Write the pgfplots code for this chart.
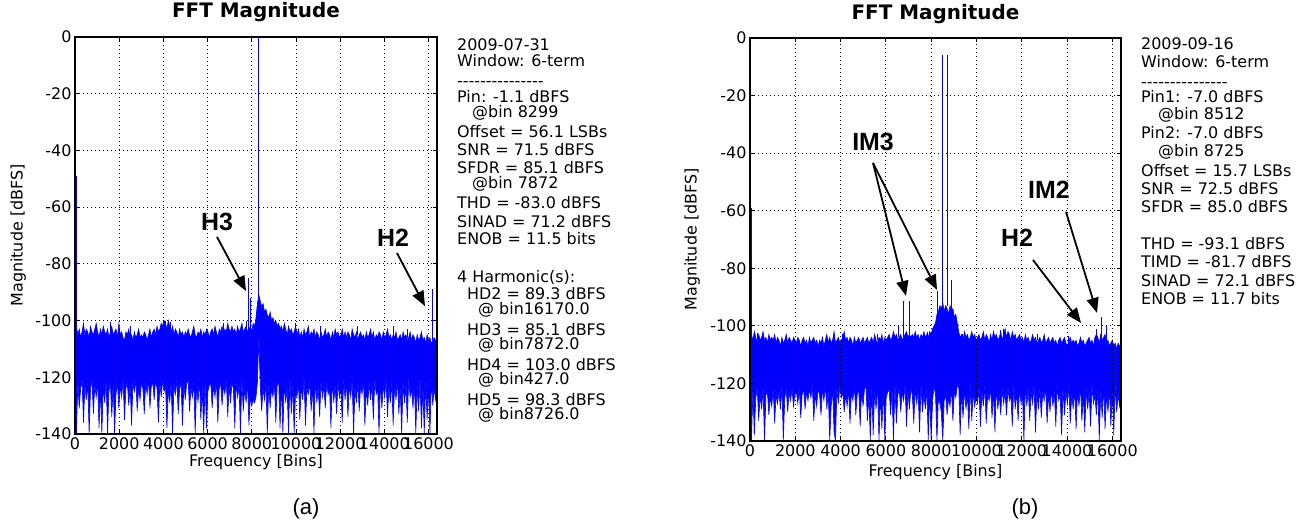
\documentclass[border=0pt]{standalone}
\usepackage{fontspec}
\setmainfont{DejaVu Sans}
\newfontfamily\arialfont{Liberation Sans}
\usepackage{pgfplots}
\usepackage{pgfplotstable}
\pgfplotsset{compat=1.18}
\usetikzlibrary{arrows.meta}

% noise floor envelopes, (a): one value every 64 bins
\pgfplotstableread[header=false,row sep=\\]{
-104\\-102\\-105\\-103\\-106\\-104\\-101\\-105\\-103\\-104\\-106\\-102\\-104\\-105\\-103\\-101\\
-104\\-106\\-103\\-105\\-102\\-104\\-105\\-103\\-106\\-104\\-102\\-105\\-104\\-103\\-106\\-101\\
-105\\-104\\-106\\-107\\-104\\-105\\-103\\-106\\-105\\-107\\-104\\-106\\-105\\-103\\-106\\-105\\
-106\\-104\\-105\\-107\\-105\\-103\\-106\\-104\\-103\\-105\\-102\\-104\\-103\\-101\\-102\\-100\\
-101\\-103\\-100\\-102\\-104\\-102\\-105\\-103\\-104\\-106\\-103\\-105\\-104\\-106\\-104\\-105\\
-103\\-105\\-106\\-104\\-102\\-105\\-106\\-104\\-105\\-103\\-106\\-104\\-105\\-103\\-104\\-106\\
-104\\-103\\-105\\-102\\-104\\-106\\-103\\-104\\-102\\-105\\-103\\-104\\-101\\-103\\-104\\-102\\
-104\\-103\\-105\\-102\\-104\\-103\\-101\\-104\\-103\\-102\\-104\\-103\\-102\\-104\\-101\\-102\\
-99\\-94\\-91\\-93\\-95\\-94\\-97\\-96\\-98\\-99\\-97\\-100\\-99\\-101\\-100\\-102\\
-101\\-103\\-102\\-104\\-101\\-103\\-105\\-102\\-104\\-103\\-105\\-104\\-102\\-105\\-103\\-106\\
-104\\-106\\-103\\-105\\-104\\-102\\-106\\-104\\-105\\-103\\-106\\-104\\-105\\-107\\-104\\-106\\
-105\\-103\\-106\\-104\\-105\\-107\\-104\\-106\\-103\\-105\\-104\\-106\\-105\\-103\\-106\\-104\\
-106\\-104\\-105\\-107\\-103\\-105\\-106\\-104\\-107\\-105\\-104\\-106\\-105\\-107\\-104\\-106\\
-105\\-103\\-106\\-104\\-107\\-105\\-106\\-104\\-105\\-107\\-104\\-106\\-105\\-103\\-106\\-105\\
-107\\-105\\-106\\-104\\-107\\-106\\-105\\-107\\-104\\-106\\-105\\-107\\-106\\-104\\-107\\-105\\
-106\\-108\\-105\\-107\\-106\\-104\\-107\\-106\\-108\\-105\\-107\\-106\\-108\\-107\\-106\\-107\\
-107\\
}\upA
\pgfplotstableread[header=false,row sep=\\]{
-125\\-140\\-122\\-131\\-124\\-121\\-136\\-123\\-128\\-122\\-140\\-124\\-121\\-133\\-123\\-127\\
-122\\-138\\-124\\-140\\-123\\-129\\-121\\-140\\-125\\-122\\-134\\-123\\-140\\-126\\-122\\-131\\
-123\\-127\\-121\\-135\\-124\\-122\\-130\\-123\\-137\\-122\\-125\\-121\\-132\\-124\\-128\\-122\\
-124\\-133\\-122\\-126\\-121\\-131\\-123\\-122\\-128\\-121\\-124\\-136\\-122\\-127\\-121\\-125\\
-123\\-138\\-124\\-129\\-122\\-140\\-123\\-126\\-121\\-133\\-124\\-122\\-137\\-123\\-128\\-122\\
-121\\-132\\-124\\-127\\-122\\-140\\-123\\-129\\-121\\-135\\-124\\-140\\-122\\-138\\-125\\-123\\
-122\\-131\\-123\\-127\\-121\\-136\\-124\\-122\\-130\\-123\\-126\\-121\\-134\\-123\\-129\\-122\\
-124\\-138\\-122\\-127\\-123\\-140\\-121\\-132\\-124\\-129\\-122\\-137\\-127\\-130\\-128\\-129\\
-127\\-122\\-106\\-123\\-132\\-124\\-128\\-122\\-140\\-123\\-131\\-124\\-127\\-122\\-136\\-123\\
-121\\-138\\-123\\-140\\-122\\-129\\-124\\-140\\-121\\-133\\-123\\-140\\-125\\-127\\-122\\-135\\
-123\\-128\\-121\\-137\\-124\\-126\\-122\\-132\\-123\\-140\\-121\\-129\\-124\\-134\\-122\\-127\\
-123\\-131\\-122\\-126\\-124\\-138\\-121\\-129\\-123\\-133\\-122\\-127\\-124\\-136\\-121\\-128\\
-122\\-134\\-123\\-127\\-121\\-140\\-124\\-129\\-122\\-132\\-123\\-126\\-121\\-137\\-124\\-130\\
-122\\-128\\-123\\-135\\-121\\-126\\-124\\-140\\-122\\-131\\-123\\-127\\-121\\-134\\-124\\-129\\
-122\\-137\\-123\\-128\\-121\\-133\\-124\\-140\\-122\\-129\\-123\\-136\\-121\\-127\\-124\\-131\\
-122\\-140\\-123\\-132\\-121\\-138\\-124\\-140\\-122\\-135\\-123\\-140\\-121\\-130\\-124\\-128\\
-123\\
}\loA
% noise floor envelopes, (b)
\pgfplotstableread[header=false,row sep=\\]{
-104\\-103\\-105\\-102\\-104\\-106\\-103\\-105\\-104\\-102\\-105\\-104\\-106\\-103\\-105\\-104\\
-105\\-103\\-106\\-104\\-105\\-107\\-104\\-106\\-105\\-103\\-106\\-104\\-105\\-106\\-104\\-105\\
-106\\-104\\-105\\-107\\-105\\-104\\-106\\-105\\-107\\-104\\-106\\-105\\-104\\-106\\-105\\-107\\
-105\\-106\\-104\\-107\\-105\\-103\\-106\\-104\\-106\\-105\\-102\\-106\\-105\\-104\\-106\\-105\\
-104\\-102\\-105\\-104\\-106\\-104\\-105\\-107\\-104\\-106\\-105\\-104\\-106\\-105\\-104\\-106\\
-105\\-104\\-106\\-105\\-104\\-106\\-103\\-105\\-106\\-104\\-105\\-103\\-106\\-104\\-105\\-104\\
-103\\-105\\-104\\-102\\-104\\-103\\-105\\-104\\-103\\-105\\-104\\-103\\-102\\-104\\-103\\-104\\
-103\\-104\\-102\\-104\\-103\\-105\\-103\\-104\\-102\\-104\\-103\\-104\\-102\\-103\\-101\\-100\\
-99\\-96\\-95\\-93\\-94\\-92\\-95\\-93\\-94\\-96\\-93\\-95\\-94\\-97\\-96\\-99\\
-102\\-104\\-103\\-105\\-102\\-104\\-103\\-105\\-104\\-102\\-104\\-103\\-105\\-104\\-103\\-105\\
-104\\-102\\-105\\-103\\-104\\-106\\-103\\-105\\-102\\-104\\-103\\-105\\-104\\-102\\-105\\-103\\
-101\\-104\\-102\\-103\\-105\\-102\\-104\\-103\\-105\\-104\\-103\\-105\\-104\\-106\\-103\\-105\\
-104\\-106\\-105\\-103\\-105\\-104\\-106\\-105\\-104\\-106\\-105\\-103\\-106\\-105\\-104\\-106\\
-105\\-104\\-106\\-105\\-107\\-105\\-104\\-106\\-105\\-104\\-106\\-107\\-105\\-104\\-106\\-105\\
-106\\-105\\-107\\-106\\-104\\-106\\-105\\-107\\-106\\-105\\-104\\-106\\-105\\-107\\-104\\-103\\
-104\\-106\\-103\\-105\\-104\\-103\\-106\\-105\\-107\\-106\\-105\\-107\\-106\\-108\\-106\\-107\\
-107\\
}\upB
\pgfplotstableread[header=false,row sep=\\]{
-126\\-140\\-123\\-138\\-125\\-122\\-133\\-124\\-129\\-122\\-140\\-124\\-123\\-131\\-125\\-128\\
-122\\-134\\-124\\-127\\-123\\-129\\-121\\-140\\-125\\-122\\-130\\-123\\-126\\-122\\-128\\-124\\
-123\\-127\\-122\\-132\\-124\\-122\\-129\\-123\\-126\\-122\\-125\\-121\\-133\\-124\\-128\\-122\\
-124\\-131\\-122\\-126\\-121\\-129\\-123\\-140\\-128\\-122\\-137\\-140\\-122\\-127\\-121\\-125\\
-123\\-130\\-124\\-128\\-122\\-134\\-123\\-126\\-121\\-131\\-124\\-122\\-135\\-123\\-128\\-122\\
-121\\-133\\-124\\-140\\-122\\-138\\-123\\-129\\-121\\-140\\-124\\-136\\-122\\-140\\-125\\-123\\
-122\\-131\\-123\\-140\\-121\\-134\\-124\\-122\\-130\\-123\\-126\\-121\\-135\\-123\\-129\\-122\\
-124\\-134\\-122\\-127\\-123\\-137\\-121\\-130\\-124\\-129\\-122\\-140\\-123\\-140\\-126\\-121\\
-124\\-140\\-125\\-127\\-130\\-140\\-126\\-124\\-131\\-125\\-128\\-122\\-133\\-123\\-125\\-121\\
-121\\-138\\-123\\-132\\-122\\-129\\-124\\-136\\-121\\-133\\-123\\-128\\-125\\-127\\-122\\-135\\
-123\\-128\\-121\\-134\\-124\\-126\\-122\\-132\\-123\\-137\\-121\\-129\\-124\\-131\\-122\\-127\\
-123\\-131\\-122\\-126\\-124\\-135\\-121\\-129\\-123\\-133\\-122\\-127\\-124\\-140\\-121\\-128\\
-122\\-133\\-123\\-127\\-121\\-137\\-124\\-129\\-122\\-132\\-123\\-126\\-121\\-134\\-124\\-130\\
-122\\-128\\-123\\-135\\-121\\-126\\-124\\-138\\-122\\-131\\-123\\-127\\-121\\-134\\-124\\-129\\
-122\\-136\\-123\\-128\\-121\\-133\\-124\\-137\\-122\\-129\\-123\\-135\\-121\\-127\\-124\\-131\\
-122\\-140\\-123\\-132\\-121\\-136\\-124\\-130\\-122\\-135\\-123\\-138\\-121\\-130\\-124\\-128\\
-124\\
}\loB

\pgfplotsset{fftaxis/.style={
  scale only axis, anchor=south west,
  xmin=0, xmax=16384, ymin=-140, ymax=0,
  xtick={0,2000,...,16000}, ytick={-140,-120,...,0},
  scaled ticks=false,
  /pgf/number format/1000 sep={},
  /pgf/number format/assume math mode=true,
  grid=major,
  major grid style={black, line width=0.8bp, dash pattern=on 1bp off 3bp},
  axis on top,
  tick align=inside, major tick length=4.5bp,
  tick style={black, line width=0.8bp},
  axis line style={black, line width=1.3bp},
  tick label style={font=\fontsize{16}{18}\selectfont},
  label style={font=\fontsize{16}{19}\selectfont},
  title style={font=\fontsize{20}{23}\selectfont\bfseries, anchor=base},
  title={FFT Magnitude}, xlabel={Frequency [Bins]}, ylabel={Magnitude [dBFS]},
}}
\tikzset{
  ann/.style={font=\arialfont\bfseries\fontsize{25}{28}\selectfont},
  arr/.style={black, line width=1.8bp, -{Triangle[length=15bp,width=12bp]}},
  info/.style={anchor=base west, inner sep=0pt, font=\fontsize{16}{19}\selectfont},
  spk/.style={blue, line width=1bp},
}

\begin{document}
\begin{tikzpicture}
\path[use as bounding box] (0bp,0bp) rectangle (1314bp,529bp);

% ---------------- (a) ----------------
\begin{axis}[fftaxis, at={(75bp,95bp)}, width=362bp, height=397bp,
  title style={at={(axis description cs:0.5,1.033)}},
  xlabel style={at={(axis description cs:0.5,-0.083)}, anchor=base},
  ylabel style={at={(axis description cs:-0.157,0.5)}, anchor=center}]
\addplot[blue, fill=blue, line width=0.6bp] table[x expr=\coordindex*64, y index=0] {\upA}
  -- (axis cs:16384,-145) -- (axis cs:0,-145) -- cycle;
\addplot[draw=none, fill=white] table[x expr=\coordindex*64, y index=0] {\loA}
  -- (axis cs:16384,-145) -- (axis cs:0,-145) -- cycle;
\addplot[blue, line width=0.6bp] table[x expr=\coordindex*64, y index=0] {\loA};
% thin spurs poking above the floor
\addplot[blue, line width=0.8bp, unbounded coords=jump] coordinates {
  (1584,-105) (1584,-100.4) (nan,nan) (2490,-106) (2490,-102) (nan,nan)
  (4073,-104) (4073,-100) (nan,nan) (4300,-104) (4300,-100.5) (nan,nan)
  (6700,-104) (6700,-101) (nan,nan) (7780,-104) (7780,-100) (nan,nan)
  (9957,-104) (9957,-101) (nan,nan) (11090,-105) (11090,-102) (nan,nan)
  (12760,-105) (12760,-102) (nan,nan) (14400,-106) (14400,-102) (nan,nan)
  (15030,-106) (15030,-103)};
\addplot[spk] coordinates {(60,-112) (60,-49)};
\addplot[spk] coordinates {(7872,-104) (7872,-85)};
\addplot[spk, line width=0.8bp] coordinates {(7940,-104) (7940,-92)};
\addplot[spk, line width=1.5bp] coordinates {(8299,-95) (8299,0)};
\addplot[spk] coordinates {(16170,-107) (16170,-89)};
\node[ann] at (axis cs:6427,-65.2) {H3};
\draw[arr] (axis cs:6427,-70.5) -- (axis cs:7740,-89.6);
\node[ann] at (axis cs:14393,-70.9) {H2};
\draw[arr] (axis cs:14574,-76.2) -- (axis cs:15841,-94.9);
\end{axis}

\node[info] at (457bp,478bp) {2009-07-31};
\node[info] at (457bp,462bp) {Window: 6-term};
\node[info] at (457bp,442bp) {-{}-{}-{}-{}-{}-{}-{}-{}-{}-{}-{}-{}-{}-{}-};
\node[info] at (457bp,426bp) {Pin: -1.1 dBFS};
\node[info] at (472bp,411bp) {@bin 8299};
\node[info] at (457bp,391bp) {Offset = 56.1 LSBs};
\node[info] at (457bp,373bp) {SNR = 71.5 dBFS};
\node[info] at (457bp,355bp) {SFDR = 85.1 dBFS};
\node[info] at (472bp,340bp) {@bin 7872};
\node[info] at (457bp,320bp) {THD = -83.0 dBFS};
\node[info] at (457bp,301bp) {SINAD = 71.2 dBFS};
\node[info] at (457bp,284bp) {ENOB = 11.5 bits};
\node[info] at (457bp,246bp) {4 Harmonic(s):};
\node[info] at (467bp,229bp) {HD2 = 89.3 dBFS};
\node[info] at (478bp,214bp) {@ bin16170.0};
\node[info] at (467bp,193bp) {HD3 = 85.1 dBFS};
\node[info] at (478bp,179bp) {@ bin7872.0};
\node[info] at (467bp,158bp) {HD4 = 103.0 dBFS};
\node[info] at (478bp,144bp) {@ bin427.0};
\node[info] at (467bp,123bp) {HD5 = 98.3 dBFS};
\node[info] at (478bp,109bp) {@ bin8726.0};
\node[font=\arialfont\fontsize{22}{26}\selectfont] at (306bp,20bp) {(a)};

% ---------------- (b) ----------------
\begin{axis}[fftaxis, at={(750bp,88bp)}, width=371bp, height=403bp,
  title style={at={(axis description cs:0.5,1.032)}},
  xlabel style={at={(axis description cs:0.5,-0.087)}, anchor=base},
  ylabel style={at={(axis description cs:-0.156,0.5)}, anchor=center}]
\addplot[blue, fill=blue, line width=0.6bp] table[x expr=\coordindex*64, y index=0] {\upB}
  -- (axis cs:16384,-145) -- (axis cs:0,-145) -- cycle;
\addplot[draw=none, fill=white] table[x expr=\coordindex*64, y index=0] {\loB}
  -- (axis cs:16384,-145) -- (axis cs:0,-145) -- cycle;
\addplot[blue, line width=0.6bp] table[x expr=\coordindex*64, y index=0] {\loB};
\addplot[blue, line width=0.8bp, unbounded coords=jump] coordinates {
  (310,-105) (310,-102.5) (nan,nan) (4060,-105) (4060,-102.8) (nan,nan)
  (5610,-105) (5610,-103) (nan,nan) (7815,-104) (7815,-102) (nan,nan)
  (9400,-105) (9400,-103) (nan,nan) (11040,-104) (11040,-101.5) (nan,nan)
  (11200,-104) (11200,-101) (nan,nan) (12670,-105) (12670,-103) (nan,nan)
  (14040,-106) (14040,-103.5)};
\addplot[spk] coordinates {(60,-112) (60,-59)};
\addplot[spk, line width=0.8bp] coordinates {(6566,-104) (6566,-100)};
\addplot[spk] coordinates {(6757,-104) (6757,-91.5)};
\addplot[spk] coordinates {(7022,-104) (7022,-91.5)};
\addplot[spk] coordinates {(8260,-101) (8260,-88)};
\addplot[spk, line width=1.3bp] coordinates {(8512,-93) (8512,-6)};
\addplot[spk, line width=1.3bp] coordinates {(8725,-93) (8725,-6)};
\addplot[spk] coordinates {(8920,-96) (8920,-84)};
\addplot[spk] coordinates {(15318,-106) (15318,-101)};
\addplot[spk] coordinates {(15531,-106) (15531,-97)};
\addplot[spk] coordinates {(15744,-106) (15744,-100)};
\node[ann] at (axis cs:5432,-36.1) {IM3};
\draw[arr] (axis cs:5432,-43.4) -- (axis cs:6889,-89.6);
\draw[arr] (axis cs:5432,-43.4) -- (axis cs:8258,-87.5);
\node[ann] at (axis cs:13204,-52.8) {IM2};
\draw[arr] (axis cs:13955,-60.4) -- (axis cs:15324,-95.5);
\node[ann] at (axis cs:11791,-69.5) {H2};
\draw[arr] (axis cs:12497,-77.1) -- (axis cs:14617,-99.0);
\end{axis}

\node[info] at (1141bp,479bp) {2009-09-16};
\node[info] at (1141bp,461bp) {Window: 6-term};
\node[info] at (1141bp,441bp) {-{}-{}-{}-{}-{}-{}-{}-{}-{}-{}-{}-{}-{}-{}-};
\node[info] at (1141bp,426bp) {Pin1: -7.0 dBFS};
\node[info] at (1158bp,409bp) {@bin 8512};
\node[info] at (1141bp,390bp) {Pin2: -7.0 dBFS};
\node[info] at (1158bp,372bp) {@bin 8725};
\node[info] at (1141bp,352bp) {Offset = 15.7 LSBs};
\node[info] at (1141bp,334bp) {SNR = 72.5 dBFS};
\node[info] at (1141bp,316bp) {SFDR = 85.0 dBFS};
\node[info] at (1141bp,279bp) {THD = -93.1 dBFS};
\node[info] at (1141bp,261bp) {TIMD = -81.7 dBFS};
\node[info] at (1141bp,242bp) {SINAD = 72.1 dBFS};
\node[info] at (1141bp,224bp) {ENOB = 11.7 bits};
\node[font=\arialfont\fontsize{22}{26}\selectfont] at (1025bp,20bp) {(b)};
\end{tikzpicture}
\end{document}
